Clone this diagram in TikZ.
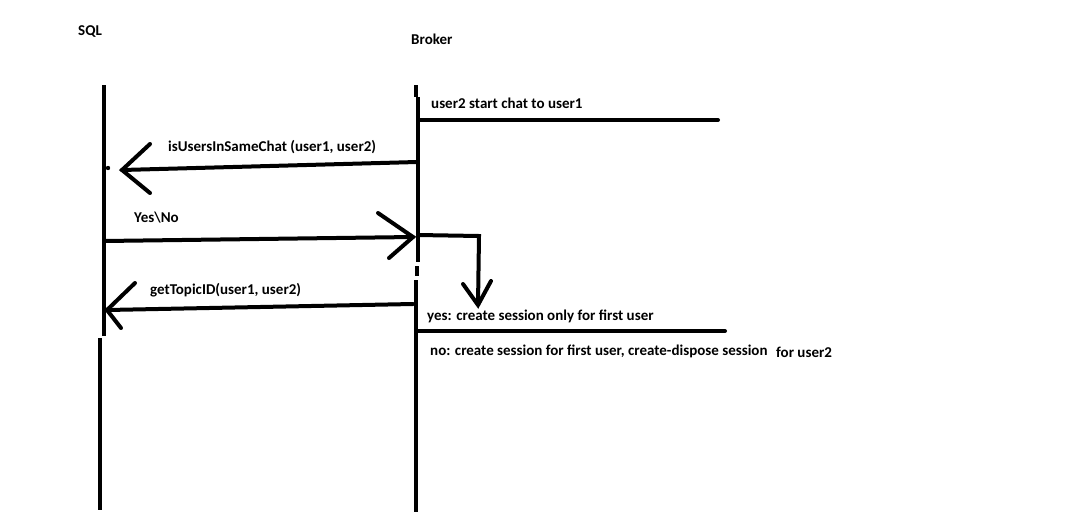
\documentclass[tikz,border=0pt]{standalone}
\usepackage{fontspec}
\setmainfont{Carlito}
\begin{document}
\begin{tikzpicture}[x=1pt,y=-1pt,
  pen/.style={line width=4pt,line cap=round,black},
  lbl/.style={anchor=west,inner sep=0pt,font=\bfseries\fontsize{15}{17}\selectfont,text=black}]
\useasboundingbox[fill=white] (0,0) rectangle (1068,531);
% headers
\node[lbl] (sql) at (78,32) {SQL};
\node[lbl] (broker) at (411,39) {Broker};
% lifelines
\coordinate (s1) at (104,85);
\coordinate (s2) at (104,336);
\coordinate (s3) at (100,338);
\coordinate (s4) at (100,510);
\draw[pen,line cap=butt] (s1) -- (s2);
\draw[pen,line cap=butt] (s3) -- (s4);
\coordinate (b1) at (416,85);
\coordinate (b2) at (418,97);
\coordinate (b3) at (416,512);
\draw[pen,line cap=butt] (b1) -- (416,97);
\draw[pen,line cap=butt] (b2) -- (418,262);
\draw[pen,line cap=butt] (417,266) -- (417,276);
\draw[pen,line cap=butt] (416,280) -- (b3);
% user2 start chat
\coordinate (u1) at (418,120);
\coordinate (u2) at (718,120);
\draw[pen] (u1) -- (u2);
\node[lbl] (t1) at (431,103) {user2 start chat to user1};
% isUsersInSameChat
\coordinate (a1s) at (417,162);
\coordinate (a1e) at (122,170);
\draw[pen] (a1s) -- (a1e);
\draw[pen] (150,144) -- (a1e) -- (150,193);
\fill (108,168) circle (2.2);
\node[lbl] (t2) at (168,147) {isUsersInSameChat (user1, user2)};
% Yes\No
\coordinate (a2s) at (104,241);
\coordinate (a2e) at (413,237);
\draw[pen] (a2s) -- (a2e);
\draw[pen] (378,213) -- (a2e) -- (389,258);
\node[lbl] (t3) at (134,218) {Yes\textbackslash No};
% bracket down
\coordinate (c1) at (418,235);
\coordinate (c2) at (479,236);
\coordinate (c3) at (478,305);
\draw[pen,line cap=butt,line join=miter] (c1) -- (c2) -- (c3);
\draw[pen] (463,284) -- (c3) -- (491,281);
% getTopicID
\coordinate (a3s) at (413,304);
\coordinate (a3e) at (107,310);
\draw[pen] (a3s) -- (a3e);
\draw[pen] (135,283) -- (a3e) -- (121,328);
\node[lbl] (t4) at (150,290) {getTopicID(user1, user2)};
% yes/no line
\coordinate (d1) at (418,331);
\coordinate (d2) at (725,331);
\draw[pen] (d1) -- (d2);
\node[lbl] (t5) at (427,316) {yes: create session only for first user};
\node[lbl] (t6) at (430,351) {no: create session for first user, create-dispose session};
\node[lbl] (t7) at (776,352) {for user2};
\end{tikzpicture}
\end{document}
